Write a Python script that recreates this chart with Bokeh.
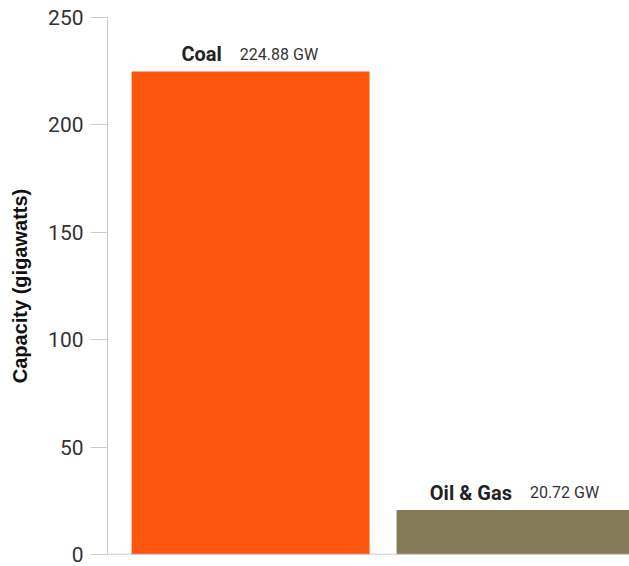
from bokeh.plotting import figure
from bokeh.models import ColumnDataSource, Range1d, Span, FixedTicker
from bokeh.core.properties import value
from bokeh.embed import file_html
from bokeh.resources import INLINE

# ---- data ----
categories = ["Coal", "Oil & Gas"]
capacity_gw = [224.88, 20.72]
value_labels = ["224.88 GW", "20.72 GW"]
bar_colors = ["#FD570F", "#857B59"]
y_ticks = [0, 50, 100, 150, 200, 250]

# ---- approximate text widths (Roboto) for centring the label pairs ----
_reg = {"0": .562, "1": .562, "2": .562, "3": .562, "4": .562, "5": .562, "6": .562,
        "7": .562, "8": .562, "9": .562, ".": .263, " ": .248, "G": .68, "W": .88}
_bold = {"C": .66, "o": .57, "a": .55, "l": .25, "O": .69, "i": .25, " ": .25,
         "&": .64, "G": .68, "s": .53}

def tw(s, table, size):
    return sum(table.get(ch, .56) for ch in s) * size

NAME_SIZE, VAL_SIZE, GAP = 20, 16, 18
name_off, val_off = [], []
for n, v in zip(categories, value_labels):
    wn, wv = tw(n, _bold, NAME_SIZE), tw(v, _reg, VAL_SIZE)
    total = wn + GAP + wv
    name_off.append(-total / 2 + wn - 1)
    val_off.append(-total / 2 + wn + GAP - 1)

xs = list(range(len(categories)))
src = ColumnDataSource(dict(x=xs, y=capacity_gw, name=categories, val=value_labels,
                            color=bar_colors, noff=name_off, voff=val_off))

p = figure(width=629, height=566, output_backend="svg", toolbar_location=None,
           x_range=Range1d(-0.54, 1.43), y_range=Range1d(0, 250),
           min_border_left=107, min_border_right=0, min_border_top=17,
           min_border_bottom=12)
p.outline_line_color = None
p.xgrid.visible = False
p.ygrid.visible = False
p.xaxis.visible = False
p.background_fill_color = "white"
p.border_fill_color = "white"

p.vbar(x="x", top="y", bottom=0, width=0.898, color="color", line_color=None, source=src)

p.text(x="x", y="y", text="name", x_offset="noff", y_offset=-17, source=src,
       text_font=value("Roboto"), text_font_style="bold", text_font_size=f"{NAME_SIZE}px",
       text_color="#222222", text_align="right", text_baseline="alphabetic")
p.text(x="x", y="y", text="val", x_offset="voff", y_offset=-17, source=src,
       text_font=value("Roboto"), text_font_size=f"{VAL_SIZE}px",
       text_color="#333333", text_align="left", text_baseline="alphabetic")

base = Span(location=0, dimension="width", line_color="#bbbbbb", line_width=1.5)
p.add_layout(base)

ya = p.yaxis[0]
ya.ticker = FixedTicker(ticks=y_ticks)
ya.minor_tick_line_color = None
ya.major_tick_out = 17
ya.major_tick_in = 0
ya.major_tick_line_color = "#cccccc"
ya.axis_line_color = "#cccccc"
ya.major_label_standoff = 7
ya.major_label_text_font = "Roboto"
ya.major_label_text_font_size = "21px"
ya.major_label_text_color = "#333333"
ya.axis_label = "Capacity (gigawatts)"
ya.axis_label_text_font = "Liberation Sans"
ya.axis_label_text_font_style = "bold"
ya.axis_label_text_font_size = "20px"
ya.axis_label_text_color = "#111111"
ya.axis_label_standoff = 14

open("out.html", "w").write(file_html(p, INLINE))
